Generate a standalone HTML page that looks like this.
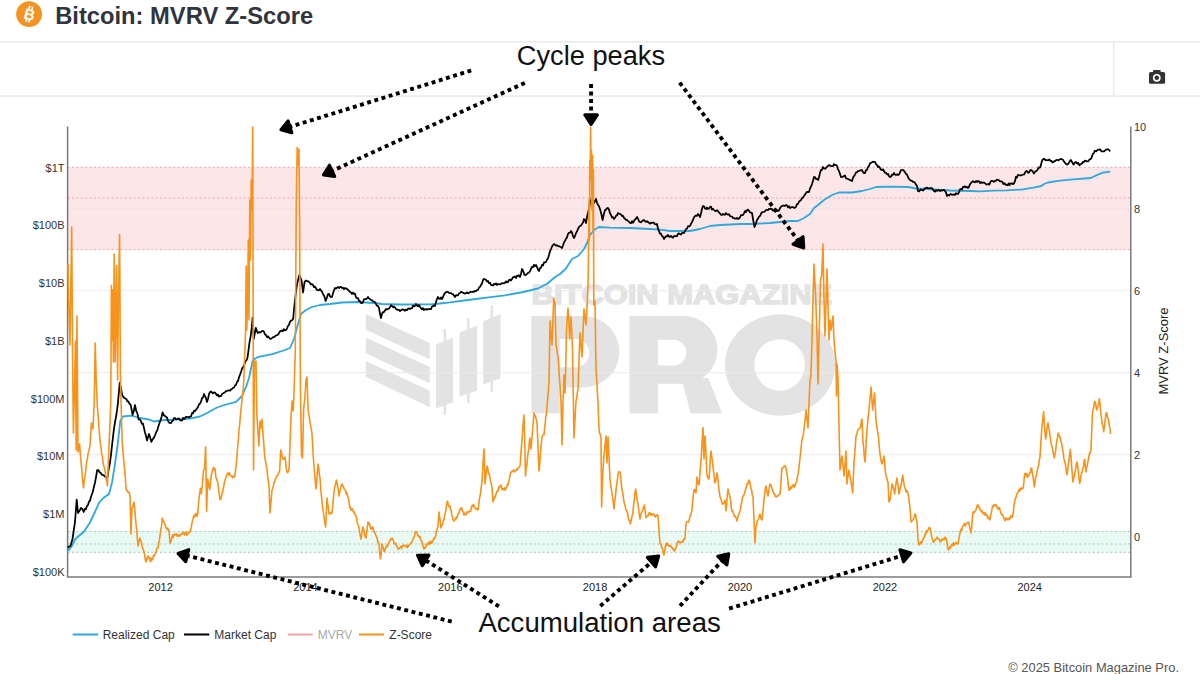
<!DOCTYPE html>
<html><head><meta charset="utf-8"><title>Bitcoin: MVRV Z-Score</title>
<style>
html,body{margin:0;padding:0;background:#fff;width:1200px;height:674px;overflow:hidden;font-family:"Liberation Sans",sans-serif;}
svg{display:block;}
</style></head><body>
<svg width="1200" height="674" viewBox="0 0 1200 674">
<rect width="1200" height="674" fill="#fff"/>
<line x1="0" y1="41.8" x2="1200" y2="41.8" stroke="#e4e4e4" stroke-width="1.3"/><line x1="0" y1="96.1" x2="1200" y2="96.1" stroke="#e4e4e4" stroke-width="1.3"/><line x1="1113.7" y1="42" x2="1113.7" y2="96" stroke="#e8e8e8" stroke-width="1.2"/><polygon points="365.8,313.9 429.8,343.0 429.8,359.5 365.8,329.7" fill="#e3e3e3"/><polygon points="365.8,337.4 429.8,366.9 429.8,383.4 365.8,353.2" fill="#e3e3e3"/><polygon points="365.8,360.9 429.8,390.8 429.8,407.3 365.8,376.7" fill="#e3e3e3"/><polygon points="436.0,344.4 453.0,337.4 453.0,402.2 436.0,408.5" fill="#e3e3e3"/><rect x="443.5" y="329.0" width="2.6" height="85.69999999999999" fill="#e3e3e3"/><polygon points="459.5,332.6 477.2,325.7 477.2,390.8 459.5,396.4" fill="#e3e3e3"/><rect x="467.0" y="318.0" width="2.6" height="85.30000000000001" fill="#e3e3e3"/><polygon points="483.2,321.2 500.5,313.9 500.5,378.3 483.2,384.6" fill="#e3e3e3"/><rect x="490.4" y="305.6" width="2.6" height="86.19999999999999" fill="#e3e3e3"/><text x="531.6" y="304" font-family="Liberation Sans" font-weight="bold" font-size="26.8" fill="#e3e3e3" stroke="#e3e3e3" stroke-width="1.5" stroke-linejoin="round" textLength="300.5" lengthAdjust="spacingAndGlyphs">BITCOIN MAGAZINE</text><path fill="#e3e3e3" fill-rule="evenodd" d="M531.4,316 H583.6 A35.75,35.75 0 0 1 583.6,387.5 H559.8 V413.2 H531.4 Z M559.8,338.9 H575 A14.2,14.2 0 0 1 575,367.3 H559.8 Z"/><path fill="#e3e3e3" fill-rule="evenodd" d="M629.5,316 H683.6 A33.9,33.9 0 0 1 683.6,383.8 H657.9 V413.2 H629.5 Z M657.9,339.8 H673.4 A12.85,12.85 0 0 1 673.4,365.5 H657.9 Z"/><polygon fill="#e3e3e3" points="681.5,378 708.3,378 722,413.2 690.5,413.2"/><path fill="#e3e3e3" fill-rule="evenodd" d="M724.9,365 A55.2,50.7 0 1 0 835.3,365 A55.2,50.7 0 1 0 724.9,365 Z M754.3,365 A25.3,25.8 0 1 0 804.9,365 A25.3,25.8 0 1 0 754.3,365 Z"/><line x1="67.6" y1="208.7" x2="1130.8" y2="208.7" stroke="#ebebeb" stroke-width="1"/><line x1="67.6" y1="290.7" x2="1130.8" y2="290.7" stroke="#ebebeb" stroke-width="1"/><line x1="67.6" y1="372.7" x2="1130.8" y2="372.7" stroke="#ebebeb" stroke-width="1"/><line x1="67.6" y1="454.7" x2="1130.8" y2="454.7" stroke="#ebebeb" stroke-width="1"/><rect x="67.6" y="167.3" width="1063.2" height="82.39999999999998" fill="#fce6e7"/><line x1="67.6" y1="208.7" x2="1130.8" y2="208.7" stroke="#f6dfe0" stroke-width="1"/><rect x="67.6" y="530.8" width="1063.2" height="21.800000000000068" fill="rgb(0,200,140)" fill-opacity="0.085"/><line x1="67.6" y1="167.3" x2="1130.8" y2="167.3" stroke="#f2a4aa" stroke-width="1" stroke-dasharray="2 2.4"/><line x1="67.6" y1="198.0" x2="1130.8" y2="198.0" stroke="#f2a4aa" stroke-width="1" stroke-dasharray="2 2.4"/><line x1="67.6" y1="249.7" x2="1130.8" y2="249.7" stroke="#f2a4aa" stroke-width="1" stroke-dasharray="2 2.4"/><line x1="67.6" y1="531.6" x2="1130.8" y2="531.6" stroke="#b0c4bb" stroke-width="1" stroke-dasharray="2 2.4"/><line x1="67.6" y1="544.0" x2="1130.8" y2="544.0" stroke="#b0c4bb" stroke-width="1" stroke-dasharray="2 2.4"/><line x1="67.6" y1="552.3" x2="1130.8" y2="552.3" stroke="#b0c4bb" stroke-width="1" stroke-dasharray="2 2.4"/><line x1="67.6" y1="126.5" x2="67.6" y2="577.1" stroke="#7a7a7a" stroke-width="1.5"/><line x1="1130.8" y1="126.5" x2="1130.8" y2="577.1" stroke="#7a7a7a" stroke-width="1.5"/><line x1="66.85" y1="577.1" x2="1131.55" y2="577.1" stroke="#7a7a7a" stroke-width="1.5"/><path d="M68.0,551.0 L72.0,546.0 L75.3,539.0 L80.0,535.0 L83.7,532.0 L89.4,523.5 L95.0,512.0 L99.2,502.4 L103.4,498.0 L109.0,494.0 L112.0,482.7 L114.7,465.8 L117.5,446.0 L120.3,420.7 L123.0,416.5 L131.6,415.6 L140.0,418.0 L148.5,419.3 L154.0,421.5 L164.0,420.0 L170.0,420.0 L180.0,419.4 L190.0,418.6 L200.0,416.5 L208.0,412.5 L217.0,407.5 L226.0,404.5 L236.0,401.8 L242.0,396.0 L246.0,387.0 L249.0,378.0 L252.8,360.2 L257.4,357.2 L272.4,354.2 L285.0,350.0 L290.0,348.0 L294.0,339.0 L298.0,324.0 L301.0,314.0 L306.0,310.0 L312.0,307.0 L320.0,305.0 L330.0,304.0 L342.0,302.5 L358.0,302.0 L374.0,303.0 L382.0,304.0 L400.0,304.5 L430.0,304.3 L440.0,303.5 L450.0,302.4 L468.0,300.0 L486.7,297.6 L505.0,295.3 L523.3,292.0 L538.0,288.5 L547.2,283.8 L554.5,277.5 L560.0,274.0 L566.0,268.5 L572.0,259.0 L578.0,256.0 L584.0,249.0 L587.0,243.0 L590.0,235.0 L594.0,230.0 L599.0,227.0 L610.0,227.6 L630.0,228.0 L650.0,229.0 L660.0,229.6 L670.0,231.0 L680.0,231.0 L690.0,231.0 L700.0,229.0 L710.0,226.0 L720.0,225.0 L740.0,224.0 L750.0,224.0 L770.0,223.0 L790.0,221.0 L798.0,221.0 L804.0,218.0 L810.0,214.0 L814.0,208.0 L818.0,205.0 L824.0,200.0 L832.0,195.0 L839.0,192.5 L852.0,192.5 L862.0,191.0 L870.0,189.0 L876.0,187.0 L890.0,186.7 L908.0,187.0 L916.0,188.5 L926.0,189.0 L950.0,190.5 L970.0,191.0 L980.0,191.4 L993.4,190.7 L1006.7,190.3 L1022.7,189.4 L1033.4,187.7 L1041.4,186.0 L1044.0,184.0 L1048.0,182.5 L1060.0,180.7 L1073.5,179.4 L1090.8,178.0 L1096.2,175.4 L1102.8,172.7 L1110.2,171.7" fill="none" stroke="#2fa8dc" stroke-width="1.8" stroke-linejoin="round"/><path d="M68.0,548.0 L69.2,546.3 L70.5,546.0 L71.5,542.6 L72.5,539.0 L73.8,530.2 L75.0,522.0 L76.7,499.6 L78.0,513.0 L79.0,511.6 L80.0,510.0 L81.0,508.0 L82.3,508.9 L83.7,512.0 L84.8,509.0 L85.8,509.4 L86.9,506.1 L88.0,505.0 L89.0,501.6 L90.0,500.8 L91.0,496.7 L92.0,494.0 L93.0,491.1 L94.0,486.4 L95.0,482.7 L96.1,476.7 L97.2,470.0 L98.3,470.0 L99.5,472.2 L100.6,472.8 L101.9,474.8 L103.2,475.0 L104.5,476.0 L105.6,477.0 L106.6,477.1 L107.7,477.0 L108.7,469.0 L109.8,463.9 L110.8,456.4 L111.8,447.6 L112.9,437.9 L113.9,429.4 L115.0,422.0 L116.0,417.0 L117.0,410.7 L118.0,402.4 L119.7,382.6 L121.0,388.7 L122.2,395.0 L123.2,396.6 L124.3,398.0 L125.4,398.6 L126.4,399.0 L127.4,401.4 L128.4,401.4 L129.5,403.8 L130.5,404.4 L131.6,409.5 L132.6,414.8 L133.8,411.0 L135.0,405.0 L136.2,410.8 L137.4,413.5 L138.6,419.3 L139.7,419.4 L140.8,420.7 L141.8,423.7 L142.9,423.5 L143.9,427.6 L144.9,432.3 L146.0,435.7 L147.0,440.4 L148.0,437.2 L149.0,434.0 L150.2,437.6 L151.3,441.8 L152.7,439.3 L154.0,437.6 L155.1,435.0 L156.2,432.2 L157.3,430.2 L158.4,426.3 L159.4,423.3 L160.5,420.4 L161.6,416.7 L162.6,412.3 L163.7,415.1 L164.9,415.9 L166.0,417.0 L167.0,417.6 L168.0,420.9 L169.0,422.7 L170.0,423.0 L171.0,423.1 L172.0,421.2 L173.0,420.6 L174.0,418.2 L175.0,418.0 L176.0,419.3 L177.0,419.0 L178.0,418.6 L179.0,418.5 L180.0,420.0 L181.0,420.5 L182.0,420.5 L183.0,417.8 L184.0,419.3 L185.0,417.9 L186.0,416.8 L187.0,416.8 L188.0,417.0 L189.0,417.5 L190.0,416.6 L191.0,416.4 L192.1,413.0 L193.1,413.3 L194.1,410.6 L195.2,411.2 L196.2,409.4 L198.0,407.0 L199.0,404.4 L200.0,403.7 L201.0,401.7 L202.0,398.3 L203.0,397.5 L204.0,394.0 L205.0,396.2 L206.0,398.2 L207.0,402.0 L208.0,398.9 L209.0,394.1 L210.0,392.0 L211.0,391.5 L212.0,392.4 L213.0,393.3 L214.0,392.4 L215.0,392.5 L216.0,394.0 L217.0,395.5 L218.0,394.5 L219.0,396.7 L220.0,396.0 L221.0,396.2 L222.0,394.0 L223.0,393.4 L224.0,392.7 L225.0,392.2 L226.0,391.0 L227.0,390.9 L228.0,390.5 L229.0,390.3 L230.0,390.8 L231.0,389.4 L232.0,389.0 L233.0,387.8 L234.0,387.6 L235.0,385.3 L236.0,385.0 L237.0,381.9 L238.0,381.0 L239.0,377.3 L240.0,374.7 L241.0,372.0 L242.1,368.4 L243.1,367.1 L244.2,365.2 L245.3,361.4 L246.3,360.6 L247.4,358.0 L248.4,351.1 L249.5,342.4 L250.6,336.6 L251.6,329.0 L252.6,317.5 L253.7,339.0 L254.8,333.4 L255.8,327.9 L256.8,330.9 L257.8,333.0 L258.9,332.1 L259.9,332.5 L260.9,332.1 L262.0,331.0 L263.0,330.8 L264.0,331.9 L265.0,334.5 L266.0,335.0 L267.1,337.2 L268.1,336.4 L269.2,337.9 L270.3,339.0 L271.4,338.7 L272.4,337.5 L273.4,337.1 L274.5,337.0 L275.5,335.8 L276.6,335.3 L277.6,335.0 L278.6,333.9 L279.7,331.8 L280.7,331.0 L281.7,330.5 L282.8,331.3 L283.8,329.2 L284.9,330.4 L285.9,330.0 L286.9,328.8 L288.0,326.0 L289.0,324.7 L290.0,321.9 L291.0,320.6 L292.1,320.3 L293.2,318.5 L294.2,307.4 L295.3,297.7 L296.3,289.5 L297.3,283.0 L298.4,278.7 L299.4,274.8 L300.4,277.9 L301.5,280.0 L303.0,292.5 L304.6,282.0 L305.8,280.5 L307.0,281.0 L308.0,281.2 L309.0,281.9 L310.0,283.0 L311.0,284.5 L312.0,284.2 L313.0,285.0 L314.0,287.2 L315.0,286.6 L316.0,288.3 L317.0,290.0 L318.0,290.1 L319.0,290.3 L320.0,289.0 L321.0,290.5 L322.0,291.6 L323.0,294.0 L324.4,296.5 L325.7,301.0 L326.9,297.6 L328.0,294.0 L329.0,293.9 L330.0,296.3 L331.0,297.1 L332.0,297.0 L333.0,293.2 L334.0,290.4 L335.0,288.0 L336.0,288.5 L337.0,287.7 L338.0,287.0 L339.0,288.0 L340.0,287.1 L341.0,286.8 L342.0,288.0 L343.0,287.7 L344.0,289.2 L345.0,288.0 L346.0,288.4 L347.0,289.0 L348.0,289.8 L349.0,290.8 L350.0,292.0 L351.0,292.3 L352.0,294.1 L353.0,292.6 L354.0,294.0 L355.0,293.7 L356.0,297.2 L357.0,298.0 L358.0,298.0 L359.0,300.9 L360.0,301.2 L361.0,303.0 L362.0,303.2 L363.0,302.1 L364.0,299.3 L365.0,299.0 L366.0,299.0 L367.0,298.5 L368.0,297.0 L369.0,298.4 L370.0,299.0 L371.0,300.0 L372.0,300.3 L373.0,301.2 L374.0,301.7 L375.0,302.1 L376.0,304.0 L377.0,305.6 L378.0,306.1 L379.0,308.0 L380.0,313.8 L381.0,318.0 L382.0,313.8 L383.0,312.0 L384.0,312.0 L385.0,310.5 L386.0,309.0 L387.0,309.6 L388.0,309.0 L389.0,308.5 L390.0,307.2 L391.0,305.2 L392.0,306.0 L393.0,307.3 L394.0,306.5 L395.0,307.5 L396.0,309.1 L397.0,309.4 L398.0,310.0 L399.0,309.8 L400.0,311.1 L401.0,310.3 L402.0,309.6 L403.0,309.4 L404.0,310.0 L405.0,310.8 L406.0,309.6 L407.0,310.2 L408.0,308.9 L409.0,308.4 L410.0,309.0 L411.0,308.3 L412.0,308.2 L413.0,305.6 L414.0,306.4 L415.0,305.9 L416.0,304.0 L417.0,305.5 L418.0,306.3 L419.0,305.0 L420.0,307.0 L421.0,308.1 L422.0,309.4 L423.0,308.1 L424.0,310.0 L425.0,309.2 L426.0,309.1 L427.0,309.6 L428.0,309.1 L429.0,309.1 L430.0,309.0 L431.0,309.1 L432.0,306.5 L433.0,306.0 L434.0,305.6 L435.0,306.0 L436.0,302.0 L437.0,298.9 L438.0,297.0 L439.0,298.7 L440.0,298.9 L441.0,297.4 L442.0,299.0 L443.0,297.0 L444.0,294.5 L445.0,293.0 L446.0,292.2 L447.0,291.9 L448.0,292.0 L449.0,292.9 L450.0,293.2 L451.0,293.1 L452.0,294.0 L453.0,294.2 L454.0,295.6 L455.0,297.0 L456.0,295.2 L457.0,295.5 L458.0,295.2 L459.0,293.5 L460.0,293.0 L461.0,291.9 L462.0,292.2 L463.0,292.7 L464.0,293.3 L465.0,293.7 L466.0,293.0 L467.0,292.5 L468.0,293.4 L469.0,292.8 L470.0,292.2 L471.0,291.8 L472.0,292.0 L473.0,291.7 L474.0,291.9 L475.0,290.8 L476.0,291.2 L477.0,290.2 L478.0,290.0 L479.0,287.7 L480.0,286.8 L481.0,285.0 L482.0,283.5 L483.0,279.9 L484.0,279.0 L485.0,279.3 L486.0,279.8 L487.0,281.5 L488.0,281.0 L489.0,283.1 L490.0,282.7 L491.0,285.0 L492.0,285.0 L493.0,285.6 L494.0,284.0 L495.0,284.4 L496.0,283.4 L497.0,285.0 L498.0,284.0 L499.0,284.2 L500.0,284.5 L501.0,284.0 L502.0,283.0 L503.0,283.3 L504.0,283.3 L505.0,282.7 L506.0,281.3 L507.0,282.4 L508.0,282.0 L509.0,280.0 L510.0,279.6 L511.0,280.5 L512.0,279.0 L513.0,277.3 L514.0,276.9 L515.0,276.5 L516.0,278.0 L517.0,275.7 L518.0,276.0 L519.0,275.3 L520.0,277.0 L521.0,273.9 L522.0,269.0 L523.2,271.0 L524.5,275.0 L525.7,275.2 L526.8,274.1 L528.0,273.0 L529.0,272.4 L530.0,271.2 L531.0,268.7 L532.0,267.0 L533.0,267.3 L534.0,264.8 L535.0,266.2 L536.0,265.0 L537.0,267.0 L538.0,269.6 L539.0,271.0 L540.0,268.0 L541.0,267.6 L542.0,265.0 L543.0,265.4 L544.0,262.4 L545.0,262.3 L546.0,262.0 L547.0,259.8 L548.0,258.2 L549.0,255.0 L550.0,251.3 L551.0,249.0 L552.0,246.5 L553.0,245.0 L554.0,244.0 L555.0,244.8 L556.0,245.7 L557.0,245.2 L558.0,246.0 L559.0,246.2 L560.0,246.7 L561.0,247.1 L562.0,248.0 L563.0,245.5 L564.0,242.2 L565.0,241.0 L566.0,238.7 L567.0,237.6 L568.0,234.0 L569.0,232.8 L570.0,232.6 L571.0,231.0 L572.0,232.5 L573.0,236.2 L574.0,238.0 L575.0,236.2 L576.0,233.0 L577.0,231.5 L578.0,229.0 L579.0,227.0 L580.0,226.0 L581.0,225.4 L582.0,224.0 L583.0,222.5 L584.0,219.0 L585.0,220.1 L586.0,223.0 L587.0,216.9 L588.0,213.0 L589.0,208.6 L590.0,203.0 L591.0,200.6 L592.0,196.0 L593.0,199.5 L594.0,203.0 L595.0,200.9 L596.0,199.0 L597.0,202.6 L598.0,205.0 L599.0,206.2 L600.0,209.0 L601.3,213.9 L602.6,220.0 L603.8,214.2 L605.0,210.0 L606.0,209.6 L607.0,208.2 L608.0,208.0 L609.0,209.6 L610.0,213.2 L611.0,215.0 L612.0,217.5 L613.0,217.1 L614.0,219.0 L615.0,218.0 L616.0,215.8 L617.0,215.4 L618.0,213.0 L619.0,214.0 L620.0,213.9 L621.0,214.5 L622.0,216.0 L623.0,215.8 L624.0,217.9 L625.0,218.7 L626.0,220.0 L627.0,219.9 L628.0,221.1 L629.0,221.8 L630.0,223.0 L631.0,223.2 L632.0,221.1 L633.0,222.8 L634.0,221.0 L635.0,219.6 L636.0,218.6 L637.0,217.0 L638.0,218.6 L639.0,221.2 L640.0,222.0 L641.0,222.3 L642.0,221.1 L643.0,220.5 L644.0,220.0 L645.0,221.1 L646.0,221.9 L647.0,221.2 L648.0,222.0 L649.0,222.9 L650.0,223.7 L651.0,222.7 L652.0,223.0 L653.0,222.5 L654.0,222.7 L655.0,224.2 L656.0,224.3 L657.0,224.0 L658.0,228.7 L659.0,231.0 L660.0,233.6 L661.0,233.7 L662.0,236.0 L663.0,236.7 L664.0,239.0 L665.0,237.4 L666.0,236.2 L667.0,236.5 L668.0,235.0 L669.0,236.4 L670.0,237.0 L671.0,235.9 L672.0,237.0 L673.0,237.7 L674.0,236.0 L675.0,236.1 L676.0,236.0 L677.0,236.1 L678.0,233.9 L679.0,233.4 L680.0,234.0 L681.0,234.6 L682.0,233.0 L683.0,232.9 L684.0,233.0 L685.0,231.2 L686.0,229.0 L687.0,228.7 L688.0,226.2 L689.0,226.3 L690.0,226.0 L691.0,223.8 L692.0,222.0 L693.0,220.0 L694.0,217.2 L695.0,216.0 L696.0,215.6 L697.0,215.9 L698.0,214.0 L699.0,215.2 L700.0,217.0 L701.0,213.4 L702.0,208.7 L703.0,206.0 L704.0,206.4 L705.0,208.4 L706.0,209.0 L707.0,207.5 L708.0,209.0 L709.0,208.6 L710.0,207.0 L711.0,206.7 L712.0,209.6 L713.0,208.9 L714.0,210.0 L715.0,211.0 L716.0,211.2 L717.0,210.2 L718.0,211.0 L719.0,212.5 L720.0,213.4 L721.0,214.8 L722.0,215.0 L723.0,213.9 L724.0,214.7 L725.0,214.7 L726.0,213.0 L727.0,214.2 L728.0,214.6 L729.0,214.2 L730.0,216.0 L731.0,216.5 L732.0,216.6 L733.0,218.1 L734.0,218.0 L735.0,218.7 L736.0,218.7 L737.0,217.9 L738.0,219.0 L739.0,218.4 L740.0,217.3 L741.0,215.2 L742.0,215.0 L743.0,215.0 L744.0,213.4 L745.0,211.0 L746.0,212.1 L747.0,210.0 L748.0,209.7 L749.0,210.8 L750.0,212.4 L751.0,212.7 L752.0,213.0 L753.2,220.1 L754.5,227.0 L755.8,223.9 L757.0,220.0 L758.0,218.6 L759.0,216.8 L760.0,216.0 L761.0,213.8 L762.0,212.2 L763.0,212.0 L764.0,211.9 L765.0,211.3 L766.0,210.0 L767.0,209.9 L768.0,210.1 L769.0,208.9 L770.0,209.0 L771.0,208.6 L772.0,209.2 L773.0,210.7 L774.0,210.0 L775.0,209.1 L776.0,210.5 L777.0,210.1 L778.0,211.0 L779.0,210.4 L780.0,208.1 L781.0,206.8 L782.0,206.0 L783.0,205.5 L784.0,205.6 L785.0,206.0 L786.0,205.0 L787.0,205.4 L788.0,207.4 L789.0,206.2 L790.0,208.0 L791.0,207.4 L792.0,207.0 L793.0,207.0 L794.0,208.0 L795.0,207.7 L796.0,206.6 L797.0,204.2 L798.0,204.0 L799.0,201.7 L800.0,200.8 L801.0,200.1 L802.0,198.0 L803.0,197.6 L804.0,196.1 L805.0,194.5 L806.0,193.0 L807.0,191.7 L808.0,192.1 L809.0,192.0 L810.0,188.5 L811.0,186.7 L812.0,184.0 L813.0,180.7 L814.0,177.0 L815.0,177.2 L816.0,179.0 L817.0,178.9 L818.0,180.0 L819.0,177.2 L820.0,173.0 L821.0,169.8 L822.0,169.8 L823.0,167.0 L824.0,168.4 L825.0,168.8 L826.0,168.0 L827.0,166.7 L828.0,166.1 L829.0,165.0 L830.0,165.5 L831.0,166.0 L832.0,166.0 L833.0,166.2 L834.0,164.0 L835.0,165.2 L836.0,164.8 L837.0,166.0 L838.0,169.4 L839.0,171.0 L840.0,174.0 L841.0,177.0 L842.0,176.9 L843.0,176.9 L844.0,176.0 L845.0,175.5 L846.0,178.2 L847.0,178.7 L848.0,179.0 L849.0,179.5 L850.0,180.1 L851.0,180.4 L852.0,181.0 L853.0,177.7 L854.0,176.0 L855.0,174.8 L856.0,172.3 L857.0,172.3 L858.0,171.0 L859.0,171.1 L860.0,170.4 L861.0,170.4 L862.0,170.0 L863.0,172.2 L864.0,173.0 L865.0,173.0 L866.0,170.1 L867.0,169.8 L868.0,167.0 L869.0,166.0 L870.0,163.2 L871.0,163.0 L872.0,162.3 L873.0,161.6 L874.0,162.0 L875.0,161.9 L876.0,164.1 L877.0,165.0 L878.0,167.1 L879.0,166.5 L880.0,168.0 L881.0,169.7 L882.0,170.0 L883.0,169.3 L884.0,171.0 L885.0,172.7 L886.0,172.8 L887.0,174.4 L888.0,174.0 L889.0,176.1 L890.0,177.0 L891.0,176.6 L892.0,174.6 L893.0,174.8 L894.0,173.0 L895.0,174.6 L896.0,174.9 L897.0,174.3 L898.0,175.0 L899.0,174.4 L900.0,172.5 L901.0,170.2 L902.0,170.0 L903.0,169.8 L904.0,170.9 L905.0,172.2 L906.0,174.0 L907.0,174.6 L908.0,177.0 L909.0,179.0 L910.0,180.0 L911.0,180.6 L912.0,180.8 L913.0,181.9 L914.0,182.0 L915.0,182.8 L916.0,184.6 L917.0,186.0 L918.0,191.0 L919.0,191.4 L920.0,190.2 L921.0,189.4 L922.0,190.0 L923.0,190.5 L924.0,189.6 L925.0,188.2 L926.0,188.0 L927.0,187.7 L928.0,188.1 L929.0,188.3 L930.0,188.0 L931.0,188.0 L932.0,188.2 L933.0,189.5 L934.0,191.0 L935.0,191.7 L936.0,190.1 L937.0,190.9 L938.0,190.2 L939.0,190.2 L940.0,191.0 L941.0,190.1 L942.0,190.7 L943.0,190.1 L944.0,189.8 L945.0,191.0 L946.0,192.5 L947.0,196.0 L948.0,194.9 L949.0,195.6 L950.0,194.3 L951.0,194.0 L952.0,195.0 L953.0,194.7 L954.0,194.4 L955.0,195.0 L956.0,193.2 L957.0,193.9 L958.0,194.0 L959.0,192.1 L960.0,189.4 L961.0,189.0 L962.0,189.5 L963.0,186.9 L964.0,187.0 L965.0,186.2 L966.0,187.4 L967.0,186.9 L968.0,188.0 L969.0,186.7 L970.0,184.3 L971.0,183.0 L972.0,181.7 L973.0,181.2 L974.0,182.0 L975.0,182.3 L976.0,180.9 L977.0,182.0 L978.0,181.0 L979.0,181.4 L980.0,183.1 L981.0,182.0 L982.0,183.0 L983.1,182.5 L984.2,182.7 L985.3,183.4 L986.3,184.5 L987.3,184.4 L988.3,184.0 L989.3,184.7 L990.6,181.6 L992.0,180.7 L993.0,181.2 L994.0,181.9 L995.0,180.9 L996.0,180.7 L997.0,179.6 L998.0,179.8 L999.0,180.2 L1000.0,181.4 L1001.1,181.4 L1002.3,181.9 L1003.4,184.0 L1004.5,183.1 L1005.6,184.9 L1006.7,184.7 L1007.7,185.4 L1008.7,183.3 L1009.7,185.0 L1010.7,183.4 L1011.8,183.3 L1012.9,184.2 L1014.0,183.4 L1015.0,181.1 L1016.0,176.7 L1017.0,177.5 L1018.0,174.8 L1019.0,175.2 L1020.0,175.4 L1021.4,175.3 L1022.7,174.7 L1024.1,174.5 L1025.4,172.0 L1026.4,170.9 L1027.4,171.5 L1028.4,172.9 L1029.4,172.0 L1030.4,170.0 L1031.4,170.0 L1032.7,171.4 L1034.0,173.4 L1035.3,171.6 L1036.7,170.7 L1037.7,169.5 L1038.7,167.4 L1039.7,167.8 L1040.7,166.0 L1041.7,161.9 L1042.7,159.4 L1044.0,158.7 L1045.4,160.0 L1046.8,160.0 L1048.1,160.3 L1049.4,159.4 L1050.4,160.9 L1051.4,160.8 L1052.4,162.5 L1053.4,162.0 L1054.4,161.1 L1055.4,160.8 L1056.4,159.8 L1057.4,160.0 L1058.5,160.4 L1059.7,159.3 L1060.8,159.0 L1061.9,159.2 L1062.9,159.7 L1064.0,161.4 L1065.1,163.1 L1066.3,163.9 L1067.4,164.7 L1068.5,163.7 L1069.7,161.3 L1070.8,160.0 L1072.2,162.3 L1073.5,164.7 L1074.8,162.5 L1076.0,162.0 L1077.2,163.7 L1078.3,163.0 L1079.5,165.4 L1080.6,164.2 L1081.7,163.8 L1082.8,162.0 L1083.8,162.3 L1084.8,160.7 L1085.8,160.9 L1086.8,161.4 L1088.2,161.3 L1089.5,159.4 L1090.5,159.1 L1091.5,158.0 L1092.8,154.0 L1093.8,153.3 L1094.8,150.7 L1096.2,151.3 L1097.5,150.0 L1098.8,149.6 L1100.2,149.4 L1101.5,151.4 L1102.8,151.4 L1104.2,151.3 L1105.5,150.0 L1106.8,149.3 L1108.2,149.4 L1109.2,150.1 L1110.2,151.4" fill="none" stroke="#000" stroke-width="1.75" stroke-linejoin="round"/><path d="M68.0,264.0 L68.6,296.0 L69.3,320.9 L70.0,345.0 L70.8,286.8 L71.7,227.0 L72.5,348.0 L73.4,433.0 L74.5,390.0 L75.4,341.0 L76.2,450.0 L77.0,316.0 L78.0,452.0 L78.8,449.0 L79.6,444.0 L80.3,453.8 L81.0,461.5 L81.7,469.0 L82.6,479.9 L83.5,488.0 L84.2,480.8 L84.9,476.7 L85.5,472.7 L86.2,466.1 L86.9,460.0 L87.5,458.6 L88.1,453.1 L88.8,451.5 L89.4,447.9 L90.0,446.0 L90.7,434.6 L91.4,423.0 L92.2,426.3 L93.0,429.0 L93.7,412.8 L94.3,400.0 L95.2,343.0 L96.2,380.0 L97.3,406.0 L97.9,412.6 L98.5,420.5 L99.2,430.2 L99.8,437.3 L100.4,444.0 L101.0,447.0 L101.6,453.4 L102.3,455.4 L102.9,461.2 L103.5,465.0 L104.2,467.1 L104.9,470.0 L105.6,475.0 L106.2,479.9 L106.9,481.3 L107.5,486.0 L108.1,468.0 L108.7,452.0 L109.4,437.0 L110.1,419.9 L110.8,402.0 L111.4,285.5 L112.2,340.0 L112.8,290.0 L113.4,362.0 L114.2,254.0 L115.2,362.0 L115.9,313.0 L116.6,265.5 L117.6,380.0 L118.4,300.0 L119.6,234.6 L120.4,377.0 L121.3,411.1 L122.2,442.0 L122.9,450.1 L123.6,458.6 L124.3,466.0 L125.2,476.0 L126.0,488.0 L126.6,490.3 L127.2,490.2 L127.8,492.0 L128.4,492.5 L129.0,492.0 L130.0,496.0 L131.0,534.0 L132.0,508.0 L133.0,506.0 L134.0,502.0 L134.7,508.6 L135.3,516.2 L136.0,524.0 L136.7,530.2 L137.3,537.5 L138.0,546.0 L138.7,541.9 L139.3,540.0 L140.0,538.0 L140.7,541.0 L141.3,541.6 L142.0,546.0 L142.7,548.6 L143.3,549.4 L144.0,552.0 L144.7,554.7 L145.3,559.7 L146.0,562.0 L146.7,559.9 L147.3,557.4 L148.0,556.0 L148.6,556.9 L149.2,558.7 L149.8,557.5 L150.4,561.6 L151.0,561.0 L151.6,558.4 L152.2,559.8 L152.8,559.2 L153.4,555.4 L154.0,556.0 L154.7,555.6 L155.3,552.9 L156.0,552.3 L156.7,549.0 L157.3,547.8 L158.0,548.0 L158.7,542.9 L159.3,541.5 L160.0,536.0 L160.6,530.5 L161.2,527.9 L161.8,524.0 L162.4,518.0 L163.2,521.5 L164.0,522.0 L164.7,523.5 L165.3,525.5 L166.0,528.0 L166.6,528.5 L167.2,529.7 L167.8,527.9 L168.4,530.4 L169.0,530.0 L170.0,543.0 L170.7,542.0 L171.3,540.2 L172.0,537.0 L172.7,534.9 L173.3,537.5 L174.0,534.1 L174.7,534.5 L175.3,534.9 L176.0,534.0 L176.7,535.8 L177.3,534.1 L178.0,536.4 L178.7,535.5 L179.3,535.0 L180.0,536.0 L180.7,534.9 L181.3,533.9 L182.0,533.1 L182.7,532.8 L183.3,534.1 L184.0,533.0 L184.7,534.9 L185.3,532.2 L186.0,532.0 L186.7,535.3 L187.3,533.9 L188.0,534.0 L188.7,533.0 L189.3,531.8 L190.0,532.0 L190.6,529.6 L191.2,527.7 L191.9,523.7 L192.5,520.9 L193.1,518.5 L193.8,515.6 L194.5,517.1 L195.2,514.3 L195.9,513.4 L196.6,515.7 L197.3,516.4 L198.0,510.6 L198.7,501.3 L199.4,495.6 L200.4,488.4 L201.4,493.6 L202.1,486.8 L202.8,479.9 L203.5,470.7 L204.6,468.6 L205.6,446.8 L206.6,511.2 L207.7,479.0 L208.4,482.9 L209.1,486.9 L209.8,489.4 L210.8,479.0 L211.5,474.2 L212.2,471.8 L212.9,468.6 L213.6,467.4 L214.3,469.8 L215.0,468.6 L216.0,478.0 L216.7,479.0 L217.3,481.2 L218.0,483.0 L218.7,490.3 L219.4,495.4 L220.1,499.8 L220.8,499.4 L221.5,495.5 L222.2,493.6 L222.9,490.0 L223.6,487.3 L224.3,483.0 L224.9,481.1 L225.5,478.6 L226.2,477.2 L226.8,474.4 L227.4,473.8 L228.1,473.0 L228.8,474.8 L229.5,472.8 L230.1,475.4 L230.7,475.3 L231.4,475.9 L232.0,476.4 L232.6,478.0 L233.3,476.3 L234.0,476.6 L234.7,477.0 L235.4,471.6 L236.1,465.6 L236.8,458.0 L237.5,448.5 L238.2,441.0 L238.9,431.0 L239.6,425.1 L240.2,417.9 L240.9,410.4 L241.7,403.3 L242.5,395.0 L243.6,385.0 L244.7,355.0 L245.6,330.0 L246.2,266.0 L246.8,330.0 L247.6,300.0 L248.3,240.0 L249.0,320.0 L249.8,200.0 L250.5,260.0 L251.2,180.0 L252.0,210.0 L252.7,127.0 L253.5,470.0 L254.5,361.0 L255.2,361.9 L256.0,361.0 L256.8,413.0 L257.8,430.0 L258.9,446.0 L260.0,421.0 L261.0,428.0 L262.0,419.0 L263.0,434.0 L263.7,441.9 L264.3,451.4 L265.0,459.0 L265.7,461.9 L266.3,466.3 L267.0,470.0 L267.7,476.3 L268.3,481.3 L269.0,486.0 L270.0,513.0 L270.7,504.6 L271.3,499.2 L272.0,490.0 L272.7,488.5 L273.3,486.3 L274.0,482.3 L274.7,482.2 L275.3,479.2 L276.0,478.0 L276.6,477.3 L277.2,475.2 L277.9,475.1 L278.5,473.2 L279.1,472.3 L279.7,470.0 L280.7,450.0 L281.4,452.5 L282.1,456.5 L282.8,459.0 L283.5,459.1 L284.2,458.8 L284.9,457.0 L285.6,461.5 L286.3,468.2 L287.0,472.0 L287.7,472.6 L288.3,471.3 L289.0,470.0 L290.0,444.0 L291.0,417.0 L292.1,401.0 L293.2,411.0 L294.2,388.0 L295.3,351.0 L296.3,200.0 L297.2,147.5 L298.0,165.0 L299.0,149.0 L299.6,223.0 L300.4,386.0 L301.5,455.0 L302.5,458.0 L303.6,409.0 L304.6,401.0 L305.3,392.1 L306.0,380.0 L307.0,377.0 L308.0,408.0 L308.7,414.2 L309.3,417.4 L310.0,422.0 L310.7,426.1 L311.3,428.9 L312.0,434.0 L312.7,445.8 L313.3,456.8 L314.0,466.0 L314.7,473.6 L315.3,482.0 L316.0,489.0 L316.7,481.4 L317.3,473.1 L318.0,464.0 L318.7,467.6 L319.3,474.3 L320.0,478.0 L321.0,492.0 L321.7,498.3 L322.3,504.6 L323.0,510.0 L323.6,514.0 L324.3,518.9 L325.0,523.7 L325.6,527.0 L326.3,513.0 L327.0,498.0 L327.7,504.1 L328.3,507.1 L329.0,514.0 L329.6,512.6 L330.2,513.4 L330.8,513.9 L331.4,512.2 L332.0,513.0 L332.7,506.6 L333.3,499.4 L334.0,492.0 L334.8,486.4 L335.6,483.9 L336.4,480.0 L337.0,483.1 L337.7,486.5 L338.4,490.8 L339.0,496.0 L339.6,493.0 L340.2,490.1 L340.8,487.8 L341.4,484.8 L342.0,484.0 L342.6,485.1 L343.2,486.0 L343.8,488.0 L344.4,489.1 L345.0,490.0 L345.6,490.5 L346.2,494.2 L346.8,492.5 L347.4,495.3 L348.0,497.0 L348.7,499.9 L349.3,504.0 L350.0,508.0 L350.6,507.3 L351.2,510.3 L351.8,509.4 L352.4,508.8 L353.0,511.0 L353.6,512.4 L354.2,511.6 L354.8,514.2 L355.4,514.5 L356.0,516.0 L356.6,518.7 L357.2,522.4 L357.8,524.3 L358.4,525.3 L359.0,528.0 L359.7,532.7 L360.3,535.8 L361.0,539.0 L361.7,534.6 L362.3,529.8 L363.0,527.0 L363.6,529.5 L364.2,531.6 L364.8,535.2 L365.4,537.4 L366.0,538.0 L366.7,533.0 L367.3,526.8 L368.0,522.0 L368.6,524.7 L369.2,523.1 L369.8,524.9 L370.4,527.8 L371.0,529.0 L371.7,529.1 L372.3,527.1 L373.0,528.0 L373.6,530.0 L374.2,532.5 L374.8,532.4 L375.4,534.2 L376.0,536.0 L376.6,536.7 L377.2,538.5 L377.8,542.4 L378.4,542.0 L379.0,544.0 L379.7,553.1 L380.4,559.0 L381.2,552.9 L382.0,544.0 L382.7,546.7 L383.3,547.9 L384.0,551.0 L384.7,551.5 L385.3,548.7 L386.0,547.2 L386.7,545.7 L387.3,546.8 L388.0,544.0 L388.7,543.0 L389.3,541.3 L390.0,540.9 L390.7,538.7 L391.3,539.4 L392.0,538.0 L392.6,539.0 L393.2,539.7 L393.8,542.6 L394.4,543.9 L395.0,544.0 L395.7,543.2 L396.3,545.8 L397.0,545.7 L397.7,548.8 L398.3,549.1 L399.0,549.0 L399.6,547.6 L400.2,547.2 L400.9,546.3 L401.5,548.7 L402.1,545.8 L402.8,546.4 L403.4,545.4 L404.0,545.0 L404.7,545.8 L405.3,546.0 L406.0,546.8 L406.7,545.0 L407.3,547.6 L408.0,547.0 L408.7,545.5 L409.3,545.4 L410.0,543.9 L410.7,543.0 L411.3,542.9 L412.0,542.0 L412.7,540.1 L413.3,538.1 L414.0,537.6 L414.7,535.4 L415.3,531.8 L416.0,531.6 L416.6,531.6 L417.2,533.2 L417.8,535.7 L418.4,536.4 L419.0,536.0 L419.6,537.4 L420.2,536.7 L420.8,540.5 L421.4,540.6 L422.0,542.0 L422.7,544.6 L423.3,547.4 L424.0,549.0 L424.6,548.4 L425.2,546.9 L425.8,547.4 L426.4,544.6 L427.0,544.0 L427.6,543.4 L428.2,544.7 L428.9,542.2 L429.5,542.3 L430.1,543.9 L430.8,541.0 L431.4,543.4 L432.0,542.0 L432.6,541.7 L433.2,539.8 L433.8,538.3 L434.4,539.0 L435.0,537.0 L435.6,536.2 L436.2,531.4 L436.8,530.3 L437.4,528.4 L438.0,526.0 L439.0,512.0 L439.7,517.3 L440.3,522.1 L441.0,528.0 L441.6,525.2 L442.2,525.1 L442.8,524.3 L443.4,520.1 L444.0,520.0 L444.6,515.5 L445.2,513.9 L445.8,510.2 L446.4,506.2 L447.0,502.0 L447.6,501.2 L448.2,504.4 L448.8,506.0 L449.4,506.9 L450.0,506.0 L450.6,509.5 L451.2,510.1 L451.8,515.6 L452.4,516.2 L453.0,520.0 L453.6,520.3 L454.2,521.1 L454.8,520.1 L455.4,518.0 L456.0,519.0 L456.6,516.9 L457.2,517.7 L457.9,513.7 L458.5,513.9 L459.1,511.8 L459.8,509.6 L460.4,509.8 L461.0,508.0 L461.6,507.8 L462.2,509.5 L462.8,511.8 L463.4,512.1 L464.0,515.0 L464.6,513.1 L465.2,514.5 L465.8,514.6 L466.4,514.7 L467.0,511.8 L467.6,512.4 L468.2,511.6 L468.8,512.1 L469.4,511.4 L470.0,511.0 L470.6,511.3 L471.2,508.2 L471.8,505.9 L472.4,506.9 L473.0,505.0 L473.6,504.4 L474.2,506.7 L474.9,506.9 L475.5,508.9 L476.1,508.3 L476.8,509.2 L477.4,508.6 L478.0,510.0 L478.7,505.5 L479.3,499.8 L480.0,496.0 L480.7,492.2 L481.3,486.7 L482.0,482.0 L482.7,469.8 L483.3,459.1 L484.0,449.0 L485.0,484.0 L485.7,477.6 L486.3,472.8 L487.0,466.0 L487.6,467.3 L488.2,471.5 L488.8,473.7 L489.4,474.2 L490.0,478.0 L490.7,481.9 L491.3,483.3 L492.0,488.0 L493.0,502.0 L493.6,499.1 L494.2,499.1 L494.8,496.3 L495.4,496.9 L496.0,494.0 L496.7,492.6 L497.3,490.7 L498.0,491.0 L498.7,487.1 L499.3,488.1 L500.0,486.0 L500.7,485.1 L501.3,486.1 L502.0,489.5 L502.7,489.3 L503.3,488.4 L504.0,490.0 L504.7,487.9 L505.3,489.9 L506.0,488.1 L506.7,487.8 L507.3,484.6 L508.0,485.0 L508.6,482.8 L509.2,479.3 L509.8,476.3 L510.4,474.0 L511.0,472.0 L511.6,472.1 L512.2,471.0 L512.9,470.9 L513.5,469.8 L514.1,471.9 L514.8,471.0 L515.4,471.3 L516.0,470.0 L516.7,469.1 L517.3,469.9 L518.0,468.1 L518.7,467.6 L519.3,466.9 L520.0,466.0 L520.7,458.1 L521.3,448.3 L522.0,440.0 L522.7,430.3 L523.3,421.7 L524.0,415.0 L524.8,444.5 L525.5,476.0 L526.2,468.4 L526.8,465.3 L527.5,458.0 L528.1,452.9 L528.8,448.9 L529.4,441.3 L530.0,438.0 L531.0,449.0 L531.6,441.7 L532.2,435.9 L532.8,427.8 L533.4,420.0 L534.0,413.0 L534.6,414.9 L535.2,415.6 L535.8,417.8 L536.4,419.8 L537.0,423.0 L537.7,438.6 L538.3,454.6 L539.0,471.0 L539.6,465.5 L540.2,456.2 L540.8,449.8 L541.4,443.0 L542.0,437.0 L542.7,435.2 L543.3,434.9 L544.0,435.0 L544.6,428.5 L545.2,423.7 L545.8,416.6 L546.4,414.0 L547.0,407.0 L547.7,397.9 L548.3,391.2 L549.0,381.0 L550.0,321.0 L550.7,329.6 L551.3,337.6 L552.0,345.0 L552.9,321.4 L553.7,298.0 L554.4,302.0 L555.0,303.0 L556.0,345.0 L556.7,347.7 L557.3,353.6 L558.0,357.0 L558.7,365.6 L559.3,376.3 L560.0,385.0 L561.0,401.0 L562.0,445.0 L563.0,403.0 L564.0,375.0 L565.0,393.0 L565.8,362.8 L566.5,331.0 L567.2,318.4 L568.0,308.0 L568.9,322.5 L569.7,339.0 L570.4,326.4 L571.0,317.0 L571.8,332.1 L572.5,349.0 L573.0,379.0 L574.0,438.0 L574.7,424.2 L575.3,413.0 L576.0,401.0 L576.7,398.6 L577.3,392.5 L578.0,389.0 L578.7,369.7 L579.3,351.6 L580.0,333.0 L580.7,340.3 L581.3,349.8 L582.0,357.0 L582.7,341.7 L583.3,323.9 L584.0,309.0 L584.7,313.5 L585.3,320.3 L586.0,325.0 L586.7,313.8 L587.3,300.2 L588.0,287.0 L588.6,250.0 L589.0,200.0 L589.4,240.0 L589.8,160.0 L590.2,180.0 L590.6,127.0 L591.0,175.0 L591.4,150.0 L591.8,210.0 L592.2,160.0 L592.6,155.0 L593.0,230.0 L593.4,170.0 L593.8,305.0 L594.4,302.8 L595.0,301.0 L596.0,369.0 L597.0,385.0 L598.0,403.0 L599.0,429.0 L599.7,433.9 L600.3,434.0 L601.0,439.0 L601.6,507.0 L602.3,487.0 L603.0,470.0 L604.0,455.0 L604.7,449.6 L605.3,442.0 L606.0,436.0 L607.0,463.0 L608.0,437.0 L608.7,449.5 L609.3,465.2 L610.0,479.0 L610.7,485.3 L611.3,488.4 L612.0,493.0 L612.7,497.8 L613.3,502.3 L614.0,509.0 L614.7,501.2 L615.3,497.7 L616.0,490.0 L616.7,484.6 L617.3,480.8 L618.0,474.0 L618.7,471.8 L619.3,471.8 L620.0,472.0 L620.7,476.5 L621.3,483.7 L622.0,490.0 L622.7,492.5 L623.3,497.2 L624.0,502.0 L624.7,504.4 L625.3,506.7 L626.0,510.0 L626.7,510.5 L627.3,512.4 L628.0,516.0 L628.8,520.3 L629.6,520.2 L630.4,524.0 L631.0,521.0 L631.7,517.7 L632.4,515.1 L633.0,512.0 L633.6,504.8 L634.3,499.9 L635.0,493.4 L635.6,489.0 L636.4,494.1 L637.2,500.4 L638.0,504.0 L638.7,509.3 L639.3,515.2 L640.0,519.0 L640.7,515.7 L641.3,512.7 L642.0,512.0 L642.8,509.8 L643.6,507.3 L644.4,505.0 L645.2,511.7 L646.0,518.0 L646.6,516.6 L647.2,516.4 L647.8,515.8 L648.4,515.4 L649.0,513.0 L649.6,512.7 L650.2,513.6 L650.8,515.3 L651.4,513.7 L652.0,515.0 L652.7,513.9 L653.3,514.7 L654.0,514.1 L654.7,516.6 L655.3,516.9 L656.0,516.0 L656.7,515.4 L657.3,514.7 L658.0,516.0 L659.0,530.0 L660.0,544.0 L660.7,543.9 L661.3,545.8 L662.0,548.0 L662.7,548.9 L663.3,552.4 L664.0,555.0 L664.7,551.6 L665.3,546.8 L666.0,544.0 L666.6,542.9 L667.2,545.5 L667.8,543.7 L668.4,544.6 L669.0,546.0 L669.6,545.7 L670.2,546.4 L670.8,545.8 L671.4,547.3 L672.0,548.0 L672.6,547.8 L673.2,549.7 L673.8,549.4 L674.4,550.9 L675.0,550.0 L675.6,548.7 L676.2,547.3 L676.8,544.9 L677.4,542.6 L678.0,541.0 L678.7,542.2 L679.3,541.9 L680.0,543.0 L680.7,542.4 L681.3,542.5 L682.0,542.0 L682.6,540.6 L683.2,541.9 L683.8,539.8 L684.4,538.3 L685.0,539.0 L686.0,524.0 L686.6,521.9 L687.2,521.7 L687.8,521.4 L688.4,522.2 L689.0,521.0 L689.6,518.1 L690.2,515.1 L690.8,515.3 L691.4,512.4 L692.0,510.0 L692.7,501.7 L693.3,495.1 L694.0,490.0 L694.7,489.7 L695.3,491.5 L696.0,493.0 L697.0,477.0 L697.7,480.9 L698.3,483.9 L699.0,485.0 L699.7,477.4 L700.3,468.1 L701.0,461.0 L701.7,449.6 L702.3,438.2 L703.0,427.5 L704.0,459.0 L705.0,436.0 L705.7,448.4 L706.3,460.3 L707.0,475.0 L707.7,476.6 L708.3,478.8 L709.0,479.0 L709.7,470.4 L710.3,459.0 L711.0,451.0 L711.7,456.4 L712.3,460.5 L713.0,467.0 L713.7,473.0 L714.3,477.5 L715.0,483.0 L715.7,481.2 L716.3,477.3 L717.0,473.0 L717.6,476.5 L718.2,482.0 L718.8,488.8 L719.4,492.1 L720.0,497.0 L720.6,498.2 L721.2,499.6 L721.8,502.1 L722.4,504.1 L723.0,504.0 L723.7,502.8 L724.3,502.9 L725.0,500.0 L726.0,511.0 L726.7,504.0 L727.3,495.0 L728.0,489.0 L728.7,492.7 L729.3,494.1 L730.0,497.0 L730.7,500.1 L731.3,508.0 L732.0,511.0 L732.6,510.4 L733.2,513.3 L733.8,513.9 L734.4,516.3 L735.0,516.0 L735.7,517.3 L736.3,518.4 L737.0,521.0 L737.6,518.2 L738.2,516.0 L738.8,515.2 L739.4,512.5 L740.0,511.0 L740.6,508.9 L741.2,504.1 L741.8,501.5 L742.4,498.1 L743.0,496.0 L743.6,496.0 L744.2,494.0 L744.8,492.4 L745.4,490.0 L746.0,488.0 L746.6,486.1 L747.2,483.6 L747.8,484.3 L748.4,481.6 L749.0,480.0 L749.7,481.4 L750.3,484.9 L751.0,489.0 L751.7,490.3 L752.3,495.1 L753.0,497.0 L754.0,520.0 L755.0,543.0 L756.0,526.0 L756.7,525.4 L757.3,521.0 L758.0,520.0 L758.7,519.0 L759.3,515.4 L760.0,514.0 L760.7,516.6 L761.3,519.2 L762.0,520.0 L762.7,513.8 L763.3,507.7 L764.0,500.0 L764.7,494.9 L765.3,489.0 L766.0,486.0 L766.7,489.4 L767.3,493.0 L768.0,496.0 L768.7,490.9 L769.3,487.6 L770.0,484.0 L770.6,485.0 L771.2,485.6 L771.8,488.2 L772.4,490.0 L773.0,492.0 L773.6,492.7 L774.2,494.3 L774.8,494.1 L775.4,496.8 L776.0,496.0 L776.7,496.7 L777.3,496.8 L778.0,495.7 L778.7,495.2 L779.3,494.5 L780.0,494.0 L780.7,486.3 L781.3,476.2 L782.0,468.0 L782.6,467.9 L783.2,467.8 L783.8,466.9 L784.4,465.7 L785.0,466.0 L785.7,467.2 L786.3,469.9 L787.0,474.0 L787.7,478.8 L788.3,484.9 L789.0,490.0 L789.6,490.1 L790.2,489.1 L790.8,486.9 L791.4,488.3 L792.0,486.0 L792.6,485.2 L793.2,486.7 L793.8,484.5 L794.4,486.9 L795.0,486.0 L795.6,484.2 L796.2,482.8 L796.8,480.2 L797.4,477.0 L798.0,474.0 L798.7,469.8 L799.3,464.1 L800.0,458.0 L800.7,452.4 L801.3,445.0 L802.0,440.0 L802.7,436.7 L803.3,434.7 L804.0,430.0 L804.7,422.4 L805.3,418.3 L806.0,410.0 L806.7,416.1 L807.3,421.6 L808.0,428.0 L808.7,410.3 L809.3,395.6 L810.0,380.0 L811.0,375.0 L811.8,346.4 L812.5,320.0 L813.2,292.5 L814.0,264.0 L814.9,282.4 L815.7,298.0 L816.4,318.4 L817.0,336.0 L818.0,384.0 L819.0,340.0 L819.8,310.4 L820.5,280.0 L821.1,277.6 L821.7,276.0 L822.4,258.7 L823.0,244.0 L824.0,300.0 L825.0,336.0 L826.0,302.0 L827.0,269.0 L828.0,306.0 L829.0,340.0 L830.0,320.0 L831.0,330.0 L831.7,326.0 L832.3,320.8 L833.0,316.0 L834.0,340.0 L834.7,348.1 L835.3,354.2 L836.0,362.0 L836.5,396.0 L837.0,364.0 L838.0,378.0 L839.0,426.0 L840.0,470.0 L840.7,466.6 L841.3,459.7 L842.0,456.0 L842.7,462.0 L843.3,468.5 L844.0,476.0 L844.7,468.1 L845.3,460.7 L846.0,451.0 L847.0,484.0 L847.7,478.2 L848.3,475.1 L849.0,470.0 L849.7,474.9 L850.3,477.1 L851.0,482.0 L851.8,486.0 L852.6,493.0 L853.3,477.7 L854.0,462.0 L854.7,454.5 L855.3,446.0 L856.0,436.0 L856.7,434.8 L857.3,431.7 L858.0,430.0 L858.7,429.1 L859.3,428.8 L860.0,428.0 L860.7,426.4 L861.3,421.3 L862.0,419.0 L863.0,442.0 L863.7,447.9 L864.3,455.7 L865.0,462.0 L865.7,452.9 L866.3,439.6 L867.0,430.0 L867.7,421.7 L868.3,415.4 L869.0,410.0 L869.7,402.5 L870.3,395.0 L871.0,387.0 L871.8,397.4 L872.6,410.0 L873.3,403.3 L873.9,399.0 L874.6,393.0 L875.3,407.0 L876.0,420.0 L876.7,425.3 L877.3,430.1 L878.0,434.0 L878.7,439.2 L879.3,447.3 L880.0,454.0 L880.7,458.5 L881.3,462.2 L882.0,464.0 L882.7,460.7 L883.3,459.9 L884.0,456.0 L884.7,463.2 L885.3,470.8 L886.0,476.0 L886.7,477.1 L887.3,480.7 L888.0,482.0 L889.0,502.0 L890.0,500.0 L890.7,495.8 L891.3,489.3 L892.0,484.0 L892.7,485.1 L893.4,488.0 L894.0,490.3 L894.7,494.0 L895.5,487.3 L896.2,482.1 L897.0,478.0 L897.7,483.7 L898.3,487.3 L899.0,494.0 L899.6,491.7 L900.2,488.5 L900.9,485.6 L901.5,482.4 L902.1,478.9 L902.7,475.0 L903.5,480.8 L904.2,485.2 L905.0,488.0 L905.6,489.6 L906.2,492.0 L906.8,490.3 L907.4,491.4 L908.0,494.0 L908.7,497.2 L909.3,502.3 L910.0,508.0 L911.0,522.0 L911.7,520.9 L912.3,520.5 L913.0,520.0 L913.7,518.6 L914.3,516.8 L915.0,514.0 L915.7,515.3 L916.3,519.0 L917.0,522.0 L918.0,540.0 L919.0,545.0 L919.6,544.5 L920.2,543.4 L920.8,541.9 L921.4,542.9 L922.0,542.0 L922.6,540.0 L923.2,539.4 L923.8,537.2 L924.4,537.2 L925.0,534.0 L925.6,534.7 L926.2,530.9 L926.8,532.5 L927.4,531.6 L928.0,530.0 L928.7,528.6 L929.3,527.4 L930.0,528.0 L930.7,531.3 L931.3,534.2 L932.0,538.0 L932.7,540.1 L933.3,542.1 L934.0,542.0 L934.6,540.6 L935.2,539.3 L935.8,539.0 L936.4,538.7 L937.0,537.0 L937.6,538.8 L938.2,538.9 L938.8,538.7 L939.4,539.6 L940.0,541.0 L940.6,542.0 L941.2,540.7 L941.8,538.9 L942.4,539.9 L943.0,540.0 L943.6,538.7 L944.2,539.8 L944.8,537.3 L945.4,537.6 L946.0,538.0 L946.7,540.3 L947.3,545.3 L948.0,549.0 L948.6,550.0 L949.2,547.9 L949.8,546.8 L950.4,548.1 L951.0,546.0 L951.6,544.2 L952.2,544.7 L952.8,545.9 L953.4,542.7 L954.0,544.0 L954.7,544.9 L955.3,543.5 L956.0,542.4 L956.7,543.2 L957.3,543.9 L958.0,544.0 L958.7,539.9 L959.3,536.7 L960.0,533.0 L960.6,530.1 L961.2,529.2 L961.8,530.4 L962.4,527.2 L963.0,526.0 L963.6,525.5 L964.2,523.8 L964.8,524.0 L965.4,525.9 L966.0,524.0 L966.7,524.0 L967.3,522.7 L968.0,522.0 L968.7,522.5 L969.3,525.6 L970.0,528.0 L971.0,533.0 L971.7,526.9 L972.3,518.8 L973.0,512.0 L973.6,511.9 L974.2,512.6 L974.8,511.3 L975.4,510.9 L976.0,510.0 L976.7,506.8 L977.3,505.0 L978.0,505.0 L978.6,506.9 L979.2,506.7 L979.8,509.3 L980.4,510.1 L981.0,510.0 L981.6,512.0 L982.2,510.8 L982.8,513.5 L983.4,513.3 L984.0,513.0 L984.6,514.7 L985.2,512.6 L985.8,515.2 L986.4,514.3 L987.0,515.0 L987.6,517.6 L988.2,518.7 L988.8,517.0 L989.4,518.7 L990.0,520.0 L990.6,515.7 L991.3,512.9 L992.0,508.8 L992.6,506.0 L993.2,506.6 L993.9,504.7 L994.5,504.9 L995.1,505.9 L995.8,504.6 L996.4,506.0 L997.0,506.3 L997.6,508.7 L998.2,509.3 L998.8,507.6 L999.4,507.7 L1000.0,510.0 L1000.7,512.6 L1001.3,514.5 L1002.0,514.7 L1002.7,514.6 L1003.3,516.4 L1004.0,518.7 L1004.6,520.3 L1005.3,520.6 L1005.9,517.8 L1006.5,518.5 L1007.2,519.5 L1007.8,520.0 L1008.4,518.6 L1009.0,519.6 L1009.7,517.7 L1010.3,518.4 L1010.9,515.7 L1011.5,516.3 L1012.2,517.2 L1012.8,515.0 L1013.4,511.6 L1014.0,505.4 L1014.7,501.3 L1015.3,498.5 L1015.9,497.5 L1016.5,495.1 L1017.1,493.7 L1017.8,492.6 L1018.4,491.4 L1019.0,489.7 L1019.7,491.1 L1020.3,488.4 L1021.0,489.3 L1021.7,488.0 L1022.3,488.8 L1023.0,488.4 L1023.7,484.2 L1024.3,477.1 L1025.0,473.3 L1025.6,474.0 L1026.2,475.5 L1026.8,473.8 L1027.4,477.2 L1028.0,477.0 L1028.6,475.3 L1029.2,474.1 L1029.8,473.0 L1030.5,472.2 L1031.1,468.2 L1031.7,468.3 L1032.3,473.0 L1033.0,476.1 L1033.7,481.9 L1034.3,487.0 L1034.9,483.1 L1035.5,478.5 L1036.2,476.0 L1036.8,473.3 L1037.4,469.9 L1038.1,467.3 L1038.7,465.0 L1039.4,459.8 L1040.0,457.0 L1040.9,442.5 L1041.8,427.8 L1042.7,420.4 L1043.6,411.5 L1044.3,422.2 L1044.9,431.4 L1045.6,439.0 L1046.2,436.6 L1046.8,430.2 L1047.4,425.7 L1048.0,422.8 L1048.7,428.7 L1049.3,430.2 L1050.0,435.9 L1050.7,440.5 L1051.3,444.2 L1051.9,446.4 L1052.6,448.9 L1053.2,453.6 L1053.8,454.4 L1054.4,458.0 L1055.0,454.0 L1055.7,450.8 L1056.3,444.3 L1056.9,440.8 L1057.6,437.1 L1058.2,433.0 L1058.8,435.1 L1059.5,435.8 L1060.2,438.5 L1060.8,440.5 L1061.4,442.4 L1062.0,445.8 L1062.7,450.1 L1063.3,452.8 L1063.9,458.9 L1064.5,460.7 L1065.1,463.4 L1065.8,466.9 L1066.4,472.1 L1067.0,474.6 L1067.7,470.4 L1068.3,463.7 L1069.0,460.5 L1069.6,454.8 L1070.3,449.3 L1071.0,457.1 L1071.6,466.1 L1072.2,473.0 L1072.9,482.0 L1073.6,477.9 L1074.3,476.6 L1075.0,471.8 L1075.6,470.0 L1076.3,464.2 L1077.0,462.0 L1077.7,466.1 L1078.3,471.2 L1079.0,478.9 L1079.7,483.4 L1080.3,480.6 L1081.0,475.7 L1081.6,472.8 L1082.2,472.5 L1082.8,468.4 L1083.5,466.7 L1084.1,460.8 L1084.7,459.4 L1085.3,466.0 L1086.0,472.0 L1086.6,467.4 L1087.2,466.2 L1087.8,462.5 L1088.4,459.3 L1089.0,455.6 L1089.7,452.6 L1090.3,452.9 L1091.0,449.3 L1091.7,430.8 L1092.3,415.0 L1092.9,410.1 L1093.5,408.8 L1094.2,403.4 L1094.8,401.4 L1095.5,402.8 L1096.1,407.0 L1096.8,410.0 L1097.5,407.7 L1098.1,405.7 L1098.8,402.4 L1099.4,398.8 L1100.2,405.4 L1101.0,415.0 L1101.7,419.6 L1102.3,424.5 L1103.0,426.2 L1103.7,431.6 L1104.3,427.7 L1105.0,421.3 L1105.6,416.7 L1106.2,412.7 L1106.8,412.9 L1107.5,417.4 L1108.1,418.5 L1108.7,420.3 L1109.4,426.2 L1110.0,429.3 L1110.7,434.0" fill="none" stroke="#f7931a" stroke-width="1.6" stroke-linejoin="round"/><text x="64.5" y="171.9" font-family="Liberation Sans" font-size="11" fill="#333" text-anchor="end">$1T</text><text x="64.5" y="229.3" font-family="Liberation Sans" font-size="11" fill="#333" text-anchor="end">$100B</text><text x="64.5" y="287.2" font-family="Liberation Sans" font-size="11" fill="#333" text-anchor="end">$10B</text><text x="64.5" y="344.9" font-family="Liberation Sans" font-size="11" fill="#333" text-anchor="end">$1B</text><text x="64.5" y="402.5" font-family="Liberation Sans" font-size="11" fill="#333" text-anchor="end">$100M</text><text x="64.5" y="460.09999999999997" font-family="Liberation Sans" font-size="11" fill="#333" text-anchor="end">$10M</text><text x="64.5" y="518.0" font-family="Liberation Sans" font-size="11" fill="#333" text-anchor="end">$1M</text><text x="64.5" y="575.6" font-family="Liberation Sans" font-size="11" fill="#333" text-anchor="end">$100K</text><text x="1134" y="130.6" font-family="Liberation Sans" font-size="11" fill="#333">10</text><text x="1134" y="212.6" font-family="Liberation Sans" font-size="11" fill="#333">8</text><text x="1134" y="294.59999999999997" font-family="Liberation Sans" font-size="11" fill="#333">6</text><text x="1134" y="376.59999999999997" font-family="Liberation Sans" font-size="11" fill="#333">4</text><text x="1134" y="458.59999999999997" font-family="Liberation Sans" font-size="11" fill="#333">2</text><text x="1134" y="540.6" font-family="Liberation Sans" font-size="11" fill="#333">0</text><text x="160.6" y="590.6" font-family="Liberation Sans" font-size="11" fill="#222" text-anchor="middle">2012</text><text x="305.4" y="590.6" font-family="Liberation Sans" font-size="11" fill="#222" text-anchor="middle">2014</text><text x="450.3" y="590.6" font-family="Liberation Sans" font-size="11" fill="#222" text-anchor="middle">2016</text><text x="595.1" y="590.6" font-family="Liberation Sans" font-size="11" fill="#222" text-anchor="middle">2018</text><text x="740.0" y="590.6" font-family="Liberation Sans" font-size="11" fill="#222" text-anchor="middle">2020</text><text x="884.9" y="590.6" font-family="Liberation Sans" font-size="11" fill="#222" text-anchor="middle">2022</text><text x="1029.7" y="590.6" font-family="Liberation Sans" font-size="11" fill="#222" text-anchor="middle">2024</text><text transform="translate(1168,351) rotate(-90)" font-family="Liberation Sans" font-size="13" fill="#222" text-anchor="middle">MVRV Z-Score</text><line x1="72.7" y1="634.5" x2="98.3" y2="634.5" stroke="#2fa8dc" stroke-width="2"/><text x="102.7" y="638.8" font-family="Liberation Sans" font-size="12" fill="#333">Realized Cap</text><line x1="184" y1="634.5" x2="209.3" y2="634.5" stroke="#000" stroke-width="2"/><text x="214.3" y="638.8" font-family="Liberation Sans" font-size="12" fill="#333">Market Cap</text><line x1="287.7" y1="634.5" x2="312.7" y2="634.5" stroke="#f2a3a3" stroke-width="2"/><text x="317.7" y="638.8" font-family="Liberation Sans" font-size="12" fill="#aaa">MVRV</text><line x1="359" y1="634.5" x2="384" y2="634.5" stroke="#f7931a" stroke-width="2"/><text x="389.3" y="638.8" font-family="Liberation Sans" font-size="12" fill="#333">Z-Score</text><text x="516.8" y="64.9" font-family="Liberation Sans" font-size="26.8" fill="#111" textLength="148.3" lengthAdjust="spacingAndGlyphs">Cycle peaks</text><text x="478.4" y="631.8" font-family="Liberation Sans" font-size="27" fill="#111" textLength="242.4" lengthAdjust="spacingAndGlyphs">Accumulation areas</text><line x1="471.2" y1="70.5" x2="290.9" y2="126.6" stroke="#000" stroke-width="3.9" stroke-dasharray="3.9 3.6"/><polygon points="281.0,129.7 288.1,121.0 291.8,132.8" fill="#000" stroke="#000" stroke-width="3.2" stroke-linejoin="round"/><line x1="524.8" y1="82.9" x2="333.0" y2="170.5" stroke="#000" stroke-width="3.9" stroke-dasharray="3.9 3.6"/><polygon points="323.5,174.8 329.5,165.3 334.6,176.5" fill="#000" stroke="#000" stroke-width="3.2" stroke-linejoin="round"/><line x1="591.1" y1="84.0" x2="591.1" y2="113.9" stroke="#000" stroke-width="3.9" stroke-dasharray="3.9 3.6"/><polygon points="591.1,124.3 584.9,114.9 597.3,114.9" fill="#000" stroke="#000" stroke-width="3.2" stroke-linejoin="round"/><line x1="679.7" y1="82.7" x2="797.5" y2="239.7" stroke="#000" stroke-width="3.9" stroke-dasharray="3.9 3.6"/><polygon points="803.7,248.0 793.1,244.2 803.0,236.8" fill="#000" stroke="#000" stroke-width="3.2" stroke-linejoin="round"/><line x1="451.7" y1="621.6" x2="188.2" y2="555.9" stroke="#000" stroke-width="3.9" stroke-dasharray="3.9 3.6"/><polygon points="178.1,553.4 188.7,549.7 185.7,561.7" fill="#000" stroke="#000" stroke-width="3.2" stroke-linejoin="round"/><line x1="498.9" y1="606.4" x2="426.4" y2="560.8" stroke="#000" stroke-width="3.9" stroke-dasharray="3.9 3.6"/><polygon points="417.6,555.3 428.9,555.1 422.3,565.6" fill="#000" stroke="#000" stroke-width="3.2" stroke-linejoin="round"/><line x1="600.3" y1="605.9" x2="650.7" y2="562.8" stroke="#000" stroke-width="3.9" stroke-dasharray="3.9 3.6"/><polygon points="658.6,556.0 655.5,566.8 647.4,557.4" fill="#000" stroke="#000" stroke-width="3.2" stroke-linejoin="round"/><line x1="680.0" y1="605.9" x2="721.6" y2="561.4" stroke="#000" stroke-width="3.9" stroke-dasharray="3.9 3.6"/><polygon points="728.7,553.8 726.8,564.9 717.8,556.4" fill="#000" stroke="#000" stroke-width="3.2" stroke-linejoin="round"/><line x1="729.1" y1="608.6" x2="900.9" y2="556.0" stroke="#000" stroke-width="3.9" stroke-dasharray="3.9 3.6"/><polygon points="910.8,553.0 903.6,561.7 900.0,549.8" fill="#000" stroke="#000" stroke-width="3.2" stroke-linejoin="round"/><circle cx="29.1" cy="14.2" r="12.9" fill="#f39322"/><g transform="rotate(14 29.1 14.2)" fill="#fff"><text x="29.6" y="19.5" font-family="Liberation Sans" font-weight="bold" font-size="15" text-anchor="middle">B</text><rect x="26.9" y="5.9" width="1.7" height="3.4"/><rect x="29.9" y="5.9" width="1.7" height="3.4"/><rect x="26.9" y="19.2" width="1.7" height="3.2"/><rect x="29.9" y="19.2" width="1.7" height="3.2"/></g><text x="55.2" y="24.1" font-family="Liberation Sans" font-weight="bold" font-size="23.3" fill="#30343d" textLength="258" lengthAdjust="spacingAndGlyphs">Bitcoin: MVRV Z-Score</text><rect x="1149" y="71.9" width="16.1" height="11.9" rx="1.6" fill="#333"/><rect x="1153" y="70.1" width="7.7" height="3" rx="1" fill="#333"/><circle cx="1156.8" cy="77.8" r="3.9" fill="#fff"/><circle cx="1156.8" cy="77.8" r="2.3" fill="#333"/><text x="1179" y="671.6" font-family="Liberation Sans" font-size="12.9" fill="#555" text-anchor="end">© 2025 Bitcoin Magazine Pro.</text>
</svg>
</body></html>
